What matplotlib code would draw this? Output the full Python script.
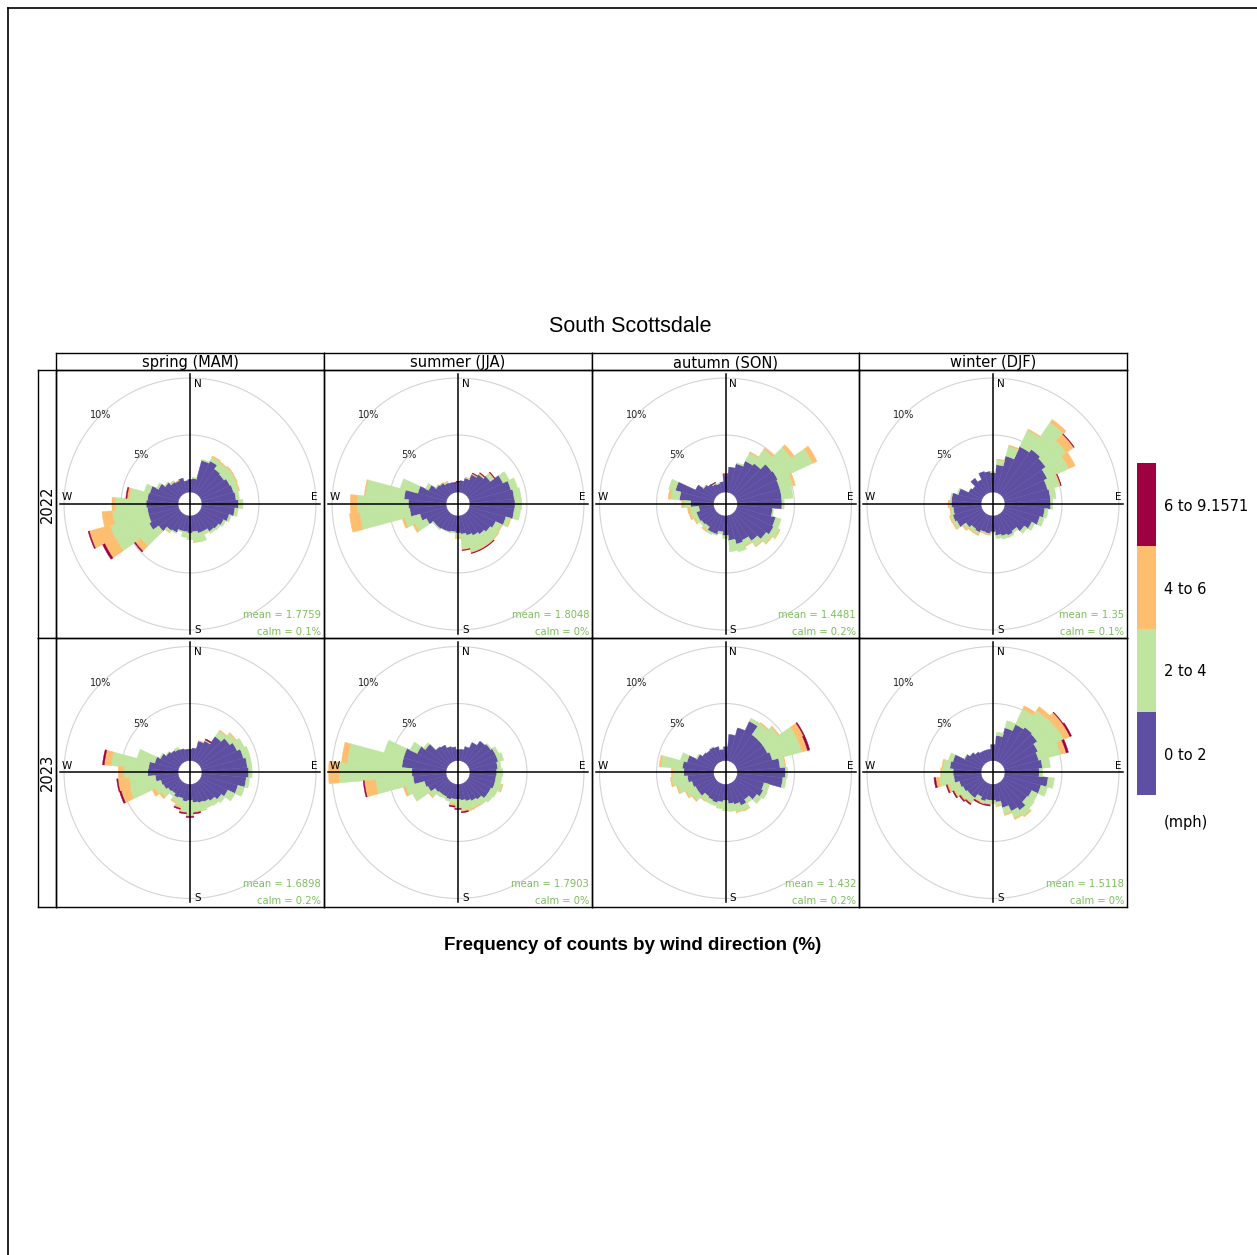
import numpy as np
import matplotlib
matplotlib.use("Agg")
import matplotlib.pyplot as plt
from matplotlib.lines import Line2D
from matplotlib.colors import ListedColormap, BoundaryNorm
from matplotlib.cm import ScalarMappable

plt.rcParams['font.family'] = ['DejaVu Sans']

# wind direction bins (deg, clockwise from north), 10 degree bins
directions = [10, 20, 30, 40, 50, 60, 70, 80, 90, 100, 110, 120,
              130, 140, 150, 160, 170, 180, 190, 200, 210, 220, 230, 240,
              250, 260, 270, 280, 290, 300, 310, 320, 330, 340, 350, 360]

speed_bins = ['0 to 2', '2 to 4', '4 to 6', '6 to 9.1571']
seasons = ['spring (MAM)', 'summer (JJA)', 'autumn (SON)', 'winter (DJF)']
years = ['2022', '2023']

spr22_0to2 = [1.2, 2.9, 3.1, 2.7, 2.6, 2.8, 2.9, 3.0, 3.2, 2.9, 2.5, 2.2, 2.0, 1.9, 1.6, 1.6, 1.4, 1.5,
              1.4, 1.4, 1.7, 1.8, 2.3, 2.9, 2.7, 2.7, 2.8, 2.7, 2.6, 2.0, 1.6, 1.3, 1.2, 1.3, 1.0, 1.1]
spr22_2to4 = [0.1, 0.1, 0.4, 0.7, 0.9, 0.7, 0.5, 0.3, 0.4, 0.3, 0.2, 0.2, 0.2, 0.2, 0.3, 0.8, 0.9, 0.6,
              0.5, 0.1, 0.1, 0.2, 1.9, 3.2, 3.5, 3.1, 2.7, 1.6, 0.5, 0.2, 0.1, 0.1, 0, 0, 0, 0]
spr22_4to6 = [0, 0, 0.1, 0.1, 0.1, 0.05, 0.05, 0, 0, 0, 0, 0, 0, 0, 0, 0, 0.05, 0,
              0, 0, 0, 0.05, 0.6, 1.1, 1.9, 0.9, 0.3, 0.2, 0, 0, 0, 0.05, 0.05, 0, 0, 0]
spr22_6up = [0, 0, 0, 0, 0, 0, 0, 0, 0, 0, 0, 0, 0, 0, 0, 0, 0, 0,
             0, 0, 0, 0, 0.1, 0.2, 0.1, 0, 0, 0.1, 0, 0, 0, 0, 0, 0, 0, 0]

sum22_0to2 = [1.0, 1.3, 1.8, 2.1, 2.4, 3.3, 3.75, 3.9, 3.95, 3.9, 3.3, 2.6, 2.4, 2.2, 2.0, 1.8, 1.6, 1.5,
              1.4, 1.5, 1.5, 1.6, 1.6, 2.0, 2.4, 3.2, 3.3, 3.7, 2.6, 1.8, 1.3, 1.2, 1.0, 0.9, 0.8, 0.9]
sum22_2to4 = [0, 0.05, 0.05, 0.1, 0.4, 0.6, 0.6, 0.6, 0.6, 0.55, 0.4, 0.6, 0.9, 1.1, 1.3, 1.5, 1.3, 0.4,
              0.1, 0.05, 0, 0.1, 0.1, 1.1, 1.4, 4.4, 4.5, 3.4, 1.6, 0.3, 0.1, 0, 0.1, 0, 0, 0]
sum22_4to6 = [0, 0.05, 0.05, 0.05, 0.05, 0, 0, 0, 0, 0, 0.05, 0.05, 0.05, 0.1, 0.1, 0.1, 0.1, 0.1,
              0, 0, 0, 0, 0, 0.2, 0.2, 0.9, 0.6, 0.1, 0, 0, 0, 0.05, 0.05, 0, 0, 0]
sum22_6up = [0, 0, 0.05, 0.05, 0.05, 0, 0, 0, 0, 0, 0, 0, 0, 0.05, 0.05, 0.05, 0.05, 0,
             0, 0, 0, 0, 0, 0, 0, 0, 0, 0, 0, 0, 0, 0, 0, 0, 0.05, 0.05]

aut22_0to2 = [2.2, 2.6, 3.1, 3.3, 3.9, 4.0, 3.9, 3.9, 3.9, 3.1, 3.5, 3.6, 3.3, 2.9, 2.45, 2.6, 2.15, 1.7,
              1.4, 1.7, 1.7, 1.4, 1.5, 1.6, 1.6, 1.3, 2.0, 3.0, 3.5, 1.85, 1.3, 1.1, 0.9, 0.8, 0.9, 1.5]
aut22_2to4 = [0, 0.1, 0.8, 1.5, 2.1, 3.4, 1.2, 1.0, 0.2, 0.1, 0.5, 0.6, 0.6, 0.6, 0.5, 0.7, 1.0, 0.3,
              0.2, 0.1, 0.2, 0.4, 0.2, 0.3, 0.5, 0.8, 0.6, 0.8, 0.6, 0, 0.05, 0, 0.1, 0.05, 0, 0]
aut22_4to6 = [0, 0, 0.1, 0.15, 0.3, 0.4, 0.2, 0, 0, 0, 0, 0.05, 0.05, 0.05, 0.1, 0, 0, 0,
              0, 0, 0, 0.1, 0, 0.1, 0.15, 0.2, 0.2, 0.2, 0, 0, 0, 0, 0, 0, 0, 0.05]
aut22_6up = [0, 0, 0, 0, 0, 0, 0, 0, 0, 0, 0, 0, 0, 0, 0, 0, 0, 0,
             0, 0, 0, 0, 0, 0, 0, 0, 0, 0, 0, 0, 0, 0, 0.05, 0, 0, 0.05]

win22_0to2 = [2.4, 3.3, 4.5, 4.8, 4.6, 4.2, 3.9, 4.0, 4.0, 3.5, 3.2, 2.7, 2.3, 1.85, 2.0, 1.85, 1.7, 1.4,
              1.55, 1.5, 1.7, 1.6, 1.85, 2.45, 2.6, 2.45, 2.6, 2.6, 2.1, 1.3, 1.15, 1.7, 1.3, 1.9, 1.8, 1.7]
win22_2to4 = [0.45, 0.9, 1.6, 2.9, 2.2, 2.1, 1.1, 0.5, 0.2, 0.3, 0.4, 0.3, 0.3, 0.2, 0.2, 0.3, 0.3, 0.1,
              0.1, 0.1, 0.2, 0.3, 0.3, 0.3, 0.2, 0.2, 0.2, 0.1, 0.1, 0, 0, 0, 0, 0, 0, 0.1]
win22_4to6 = [0.05, 0.1, 0.1, 0.3, 0.8, 0.6, 0.1, 0, 0, 0, 0, 0, 0, 0, 0, 0, 0, 0,
              0.05, 0.05, 0.1, 0.1, 0.1, 0.1, 0.1, 0.1, 0.1, 0, 0, 0, 0, 0, 0, 0, 0, 0]
win22_6up = [0, 0, 0, 0, 0.05, 0, 0.05, 0, 0, 0, 0, 0, 0, 0, 0, 0, 0, 0,
             0, 0, 0, 0, 0, 0, 0, 0, 0, 0, 0, 0, 0, 0, 0, 0, 0, 0]

spr23_0to2 = [1.1, 1.8, 2.0, 2.8, 3.2, 3.5, 3.8, 4.0, 4.1, 3.9, 3.3, 2.6, 2.3, 2.0, 1.8, 1.7, 1.6, 1.4,
              1.5, 1.3, 1.4, 1.2, 1.3, 1.5, 1.6, 2.0, 2.65, 2.6, 2.15, 1.8, 1.5, 1.3, 1.2, 1.1, 1.0, 1.0]
spr23_2to4 = [0, 0, 0.1, 0.6, 0.6, 0.7, 0.6, 0.4, 0.3, 0.3, 0.6, 0.7, 0.4, 0.5, 0.6, 0.8, 0.8, 1.3,
              0.9, 0.7, 0.4, 0.3, 0.7, 0.8, 2.8, 2.3, 2.1, 3.3, 1.6, 0.1, 0.05, 0, 0.2, 0, 0, 0]
spr23_4to6 = [0, 0.05, 0, 0.1, 0.1, 0, 0, 0, 0, 0, 0, 0, 0, 0, 0, 0, 0.1, 0.1,
              0.1, 0.2, 0.1, 0, 0.2, 0.3, 0.8, 1.0, 0.5, 0.6, 0, 0, 0, 0, 0, 0, 0, 0]
spr23_6up = [0, 0, 0.1, 0, 0, 0, 0, 0, 0, 0, 0, 0, 0, 0, 0, 0, 0.1, 0.1,
             0.1, 0.1, 0, 0, 0, 0, 0.15, 0.1, 0, 0.15, 0, 0, 0, 0, 0, 0, 0, 0]

sum23_0to2 = [1.0, 1.3, 1.85, 2.3, 2.45, 2.6, 2.6, 2.45, 2.35, 2.3, 2.3, 2.15, 2.15, 1.85, 1.7, 1.55, 1.4, 1.3,
              1.3, 1.4, 1.3, 1.3, 1.4, 1.85, 2.0, 2.9, 3.0, 3.9, 3.9, 2.9, 2.45, 1.7, 1.6, 1.3, 1.2, 0.95]
sum23_2to4 = [0, 0, 0, 0, 0.1, 0.3, 0.5, 0.3, 0.55, 0.5, 0.7, 0.6, 0.5, 0.6, 0.6, 0.8, 0.9, 0.7,
              0.4, 0.2, 0.2, 0.3, 0.6, 1.5, 1.7, 3.3, 6.4, 4.8, 1.75, 0.7, 0.2, 0, 0, 0, 0, 0]
sum23_4to6 = [0, 0, 0, 0, 0, 0, 0, 0, 0, 0, 0.05, 0, 0, 0, 0.1, 0.1, 0.1, 0.1,
              0.2, 0, 0, 0, 0.1, 0, 0.2, 1.0, 0.9, 0.5, 0, 0, 0, 0, 0, 0, 0, 0]
sum23_6up = [0, 0, 0, 0, 0, 0, 0, 0, 0, 0, 0, 0, 0, 0, 0, 0, 0.1, 0.1,
             0.1, 0, 0, 0, 0, 0, 0, 0.1, 0, 0, 0, 0, 0, 0, 0, 0, 0, 0]

aut23_0to2 = [2.3, 3.0, 3.9, 3.0, 3.0, 3.0, 3.2, 3.75, 4.2, 4.0, 2.45, 2.6, 2.3, 1.85, 2.15, 1.85, 1.7, 1.4,
              1.55, 1.7, 1.6, 1.5, 1.85, 1.85, 2.0, 2.3, 2.6, 2.75, 2.45, 1.7, 1.4, 1.3, 1.4, 1.3, 1.0, 1.2]
aut23_2to4 = [0, 0, 0.3, 1.2, 1.6, 2.9, 2.7, 0.45, 0.2, 0.3, 0.5, 0.4, 0.5, 0.4, 0.5, 0.7, 0.7, 0.9,
              0.6, 0.3, 0.4, 0.5, 0.6, 0.9, 1.3, 1.4, 1.0, 1.9, 0.6, 0.1, 0, 0, 0.05, 0, 0.05, 0]
aut23_4to6 = [0, 0, 0, 0.1, 0.1, 0.6, 0.5, 0.05, 0, 0, 0, 0, 0, 0, 0.05, 0.05, 0, 0,
              0, 0, 0, 0.05, 0.1, 0.1, 0.1, 0.1, 0.1, 0.15, 0, 0, 0, 0, 0, 0, 0, 0]
aut23_6up = [0, 0, 0, 0, 0, 0.1, 0.2, 0, 0, 0, 0, 0, 0, 0, 0, 0, 0, 0,
             0, 0, 0, 0, 0, 0, 0, 0, 0, 0, 0, 0, 0, 0, 0, 0, 0, 0]

win23_0to2 = [2.2, 3.0, 3.6, 3.8, 3.7, 3.3, 3.1, 3.3, 3.0, 3.8, 3.3, 2.7, 2.6, 3.0, 2.7, 2.15, 1.55, 1.4,
              1.4, 1.55, 1.3, 1.7, 1.7, 1.85, 2.0, 2.4, 2.45, 2.75, 2.6, 1.7, 1.4, 1.15, 1.0, 1.0, 1.0, 1.4]
win23_2to4 = [0.3, 0.65, 1.5, 1.8, 2.0, 2.5, 2.0, 0.7, 0.3, 0.55, 0.6, 0.6, 0.8, 0.6, 0.7, 0.6, 0.3, 0.2,
              0.3, 0.2, 0.4, 0.5, 0.6, 0.8, 0.9, 1.3, 1.0, 0.6, 0.4, 0.05, 0, 0, 0, 0, 0, 0]
win23_4to6 = [0, 0, 0.3, 0.4, 0.7, 0.6, 0.5, 0, 0, 0, 0, 0, 0, 0.1, 0.1, 0.1, 0.1, 0.1,
              0.1, 0.1, 0.1, 0.1, 0.15, 0.1, 0.2, 0.3, 0.1, 0.1, 0, 0, 0, 0, 0, 0, 0, 0]
win23_6up = [0, 0, 0, 0, 0.05, 0.15, 0.2, 0, 0, 0, 0, 0, 0, 0, 0, 0, 0, 0,
             0.1, 0.05, 0.1, 0.1, 0.1, 0.1, 0.1, 0.15, 0, 0, 0, 0, 0, 0, 0, 0, 0, 0]

mean_labels = ['mean = 1.7759', 'mean = 1.8048', 'mean = 1.4481', 'mean = 1.35',
               'mean = 1.6898', 'mean = 1.7903', 'mean = 1.432', 'mean = 1.5118']
calm_labels = ['calm = 0.1%', 'calm = 0%', 'calm = 0.2%', 'calm = 0.1%',
               'calm = 0.2%', 'calm = 0%', 'calm = 0.2%', 'calm = 0%']

band_colors = ['#5E4FA2', '#BFE5A0', '#FDBE6F', '#9E0142']

panels = [
    [spr22_0to2, spr22_2to4, spr22_4to6, spr22_6up],
    [sum22_0to2, sum22_2to4, sum22_4to6, sum22_6up],
    [aut22_0to2, aut22_2to4, aut22_4to6, aut22_6up],
    [win22_0to2, win22_2to4, win22_4to6, win22_6up],
    [spr23_0to2, spr23_2to4, spr23_4to6, spr23_6up],
    [sum23_0to2, sum23_2to4, sum23_4to6, sum23_6up],
    [aut23_0to2, aut23_2to4, aut23_4to6, aut23_6up],
    [win23_0to2, win23_2to4, win23_4to6, win23_6up],
]

# ---- layout (pixels) ----
W, H = 1257, 1255
col_x = [56, 324, 592, 859, 1127]
row_y = [370, 638, 907]
strip_top = 353
year_left = 38
SCALE = 11.4      # px per percent
OFFSET = 1.05     # inner hole, in percent units
RLIM = 11.6
LINE = 130        # half length of the compass lines, px


def frac(x0, y0, x1, y1):
    return [x0 / W, 1 - y1 / H, (x1 - x0) / W, (y1 - y0) / H]


fig = plt.figure(figsize=(W / 100, H / 100), dpi=100)

# outer border
fig.add_artist(Line2D([8 / W, 8 / W], [0, 1 - 8 / H], color='black', lw=1.2))
fig.add_artist(Line2D([8 / W, 1], [1 - 8 / H, 1 - 8 / H], color='black', lw=1.2))

theta = np.radians(directions)
width = np.radians(10)
circ = np.linspace(0, 2 * np.pi, 400)

for k, bands in enumerate(panels):
    r, c = divmod(k, 4)
    x0, x1 = col_x[c], col_x[c + 1]
    y0, y1 = row_y[r], row_y[r + 1]
    cx, cy = (x0 + x1) / 2, (y0 + y1) / 2
    pw, ph = x1 - x0, y1 - y0

    half = RLIM * SCALE
    axp = fig.add_axes(frac(cx - half, cy - half, cx + half, cy + half),
                       projection='polar', zorder=2)
    axp.set_theta_zero_location('N')
    axp.set_theta_direction(-1)
    axp.set_ylim(0, RLIM)
    axp.set_axis_off()
    for ring in [5, 10]:
        axp.plot(circ, np.full_like(circ, OFFSET + ring), color='#d4d4d4', lw=0.8, zorder=0.5)
    base = np.full(len(directions), OFFSET)
    for vals, col in zip(bands, band_colors):
        v = np.array(vals)
        keep = v > 0
        axp.bar(theta[keep], v[keep], width=width, bottom=base[keep], color=col,
                edgecolor=col, linewidth=0.3, align='center', zorder=2)
        base = base + v

    ax = fig.add_axes(frac(x0, y0, x1, y1), zorder=3)
    ax.set_facecolor('none')
    ax.set_xlim(-pw / 2, pw / 2)
    ax.set_ylim(-ph / 2, ph / 2)
    ax.set_xticks([])
    ax.set_yticks([])
    for sp in ax.spines.values():
        sp.set_linewidth(1.0)
    ax.plot([-LINE, LINE], [0, 0], color='black', lw=1.1)
    ax.plot([0, 0], [-LINE, LINE], color='black', lw=1.1)
    ax.text(4, 125, 'N', ha='left', va='top', fontsize=7.5)
    ax.text(4, -131, 'S', ha='left', va='bottom', fontsize=7.5)
    ax.text(128, 1.5, 'E', ha='right', va='bottom', fontsize=7.5)
    ax.text(-128, 1.5, 'W', ha='left', va='bottom', fontsize=7.5)
    for ring, lab in [(5, '5%'), (10, '10%')]:
        rp = (OFFSET + ring) * SCALE / np.sqrt(2)
        ax.text(-rp, rp, lab, ha='center', va='center', fontsize=7, color='#222222')
    ax.text(1 - 3 / pw, 20 / ph, mean_labels[k], transform=ax.transAxes,
            ha='right', va='baseline', fontsize=7.2, color='#7cbf5c')
    ax.text(1 - 3 / pw, 2.5 / ph, calm_labels[k], transform=ax.transAxes,
            ha='right', va='baseline', fontsize=7.2, color='#7cbf5c')

# season strips
for c, name in enumerate(seasons):
    sa = fig.add_axes(frac(col_x[c], strip_top, col_x[c + 1], row_y[0]), zorder=1)
    sa.set_xticks([])
    sa.set_yticks([])
    for sp in sa.spines.values():
        sp.set_linewidth(1.0)
    sa.text(0.5, 0.42, name, ha='center', va='center', fontsize=10.5, transform=sa.transAxes)

# year strips
for r, yr in enumerate(years):
    ya = fig.add_axes(frac(year_left, row_y[r], col_x[0], row_y[r + 1]), zorder=1)
    ya.set_xticks([])
    ya.set_yticks([])
    for sp in ya.spines.values():
        sp.set_linewidth(1.0)
    ya.text(0.5, 0.5, yr, ha='center', va='center', rotation=90, fontsize=10.5,
            transform=ya.transAxes)

fig.text(630 / W, 1 - 327 / H, 'South Scottsdale', ha='center', va='center',
         fontsize=15.5, family='Liberation Sans')
fig.text(633 / W, 1 - 945 / H, 'Frequency of counts by wind direction (%)',
         ha='center', va='center', fontsize=13.5, fontweight='bold', family='Liberation Sans')

# speed legend
cax = fig.add_axes(frac(1137, 463, 1156, 795))
cmap = ListedColormap(band_colors)
norm = BoundaryNorm([0, 1, 2, 3, 4], cmap.N)
cb = fig.colorbar(ScalarMappable(norm=norm, cmap=cmap), cax=cax, ticks=[0.5, 1.5, 2.5, 3.5])
cb.set_ticklabels(speed_bins)
cb.outline.set_visible(False)
cax.minorticks_off()
cax.tick_params(which='both', length=0, pad=5.8, labelsize=10.5)
fig.text(1164 / W, 1 - 822 / H, '(mph)', ha='left', va='center', fontsize=10.5)

fig.savefig('out.png', dpi=100, facecolor='white')
